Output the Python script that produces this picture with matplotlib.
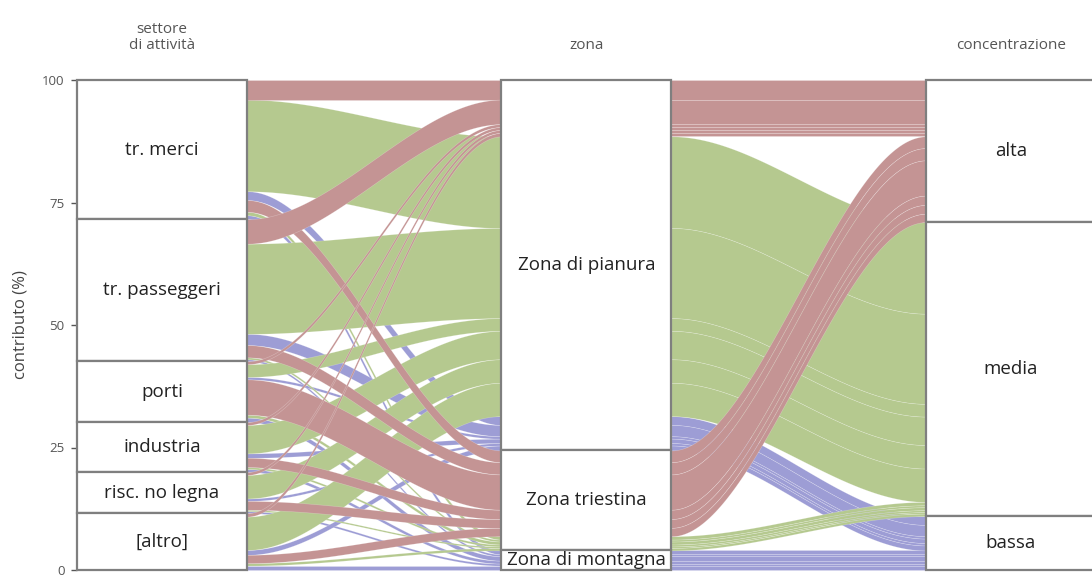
import numpy as np
import matplotlib.pyplot as plt
from matplotlib.patches import Rectangle

plt.rcParams['font.family'] = ['Open Sans', 'DejaVu Sans']

# livelli degli assi (dall'alto verso il basso)
settori = ["tr. merci", "tr. passeggeri", "porti", "industria", "risc. no legna", "[altro]"]
zone = ["Zona di pianura", "Zona triestina", "Zona di montagna"]
concentrazioni = ["alta", "media", "bassa"]
assi = ["settore\ndi attività", "zona", "concentrazione"]

# combinazioni zona / concentrazione e contributi (%) per settore
combinazioni = [("Zona di pianura", "alta"), ("Zona di pianura", "media"),
                ("Zona di pianura", "bassa"), ("Zona triestina", "alta"),
                ("Zona triestina", "media"), ("Zona di montagna", "bassa")]
val_merci = [4.0, 18.7, 1.8, 2.4, 0.7, 0.8]
val_passeggeri = [5.0, 18.4, 2.3, 2.5, 0.4, 0.4]
val_porti = [0.6, 2.6, 0.5, 7.2, 0.6, 0.9]
val_industria = [0.6, 5.8, 0.9, 1.9, 0.4, 0.6]
val_risc = [0.6, 4.8, 0.5, 1.8, 0.3, 0.4]
val_altro = [0.7, 6.8, 1.0, 1.7, 0.5, 0.8]

colori = {"alta": "#c49494", "media": "#b5c98f", "bassa": "#9d9dd5"}

# costruzione alluvia
alluvia = []
for s, vals in zip(settori, [val_merci, val_passeggeri, val_porti, val_industria, val_risc, val_altro]):
    for (z, c), v in zip(combinazioni, vals):
        alluvia.append({"s": s, "z": z, "c": c, "v": v})

si = {k: i for i, k in enumerate(settori)}
zi = {k: i for i, k in enumerate(zone)}
ci = {k: i for i, k in enumerate(concentrazioni)}


def stack(key):
    # impila i lodes dall'alto (100) verso il basso
    order = sorted(range(len(alluvia)), key=key)
    pos = {}
    top = 100.0
    for k in order:
        v = alluvia[k]["v"]
        pos[k] = (top - v, top)
        top -= v
    return pos


pos1 = stack(lambda k: (si[alluvia[k]["s"]], zi[alluvia[k]["z"]], ci[alluvia[k]["c"]]))
pos2 = stack(lambda k: (zi[alluvia[k]["z"]], ci[alluvia[k]["c"]], si[alluvia[k]["s"]]))
pos3 = stack(lambda k: (ci[alluvia[k]["c"]], zi[alluvia[k]["z"]], si[alluvia[k]["s"]]))
posizioni = [pos1, pos2, pos3]

W = 0.4
fig = plt.figure(figsize=(10.92, 5.79), dpi=100)
ax = fig.add_axes([77 / 1092, 9 / 579, 1015 / 1092, 490 / 579])

t = np.linspace(0, 1, 100)
s_curve = 3 * t ** 2 - 2 * t ** 3
ordine_colore = ["bassa", "media", "alta"]
for i in range(2):
    xa, xb = i + 1 + W / 2, i + 2 - W / 2
    xs = xa + (xb - xa) * t
    pa, pb = posizioni[i], posizioni[i + 1]
    ks = sorted(range(len(alluvia)), key=lambda k: ordine_colore.index(alluvia[k]["c"]))
    for k in ks:
        a0, a1 = pa[k]
        b0, b1 = pb[k]
        low = a0 + (b0 - a0) * s_curve
        high = a1 + (b1 - a1) * s_curve
        ax.fill_between(xs, low, high, facecolor=colori[alluvia[k]["c"]],
                        edgecolor=(1, 1, 1, 0.3), linewidth=0.4, zorder=2)

# strati
livelli = [settori, zone, concentrazioni]
chiavi = ["s", "z", "c"]
for i in range(3):
    top = 100.0
    for lev in livelli[i]:
        tot = sum(a["v"] for a in alluvia if a[chiavi[i]] == lev)
        ax.add_patch(Rectangle((i + 1 - W / 2, top - tot), W, tot, facecolor="white",
                               edgecolor="#7f7f7f", linewidth=1.6, zorder=3, clip_on=False))
        ax.text(i + 1, top - tot / 2, lev, ha="center", va="center", fontsize=13.5,
                color="#222222", zorder=4)
        top -= tot
    ax.text(i + 1, 105.6, assi[i], ha="center", va="bottom", fontsize=11,
            color="#555555", linespacing=1.05)

ax.set_xlim(0.8, 0.8 + 1015 / 424.5)
ax.set_ylim(0, 100)
ax.set_xticks([])
ax.set_yticks([0, 25, 50, 75, 100])
ax.tick_params(axis="y", length=4, width=1, color="#555555", labelcolor="#555555",
               labelsize=9.5, pad=5)
for sp in ax.spines.values():
    sp.set_visible(False)
ax.set_ylabel("contributo (%)", fontsize=12, color="#444444", labelpad=10)

fig.savefig("out.png", dpi=100)
